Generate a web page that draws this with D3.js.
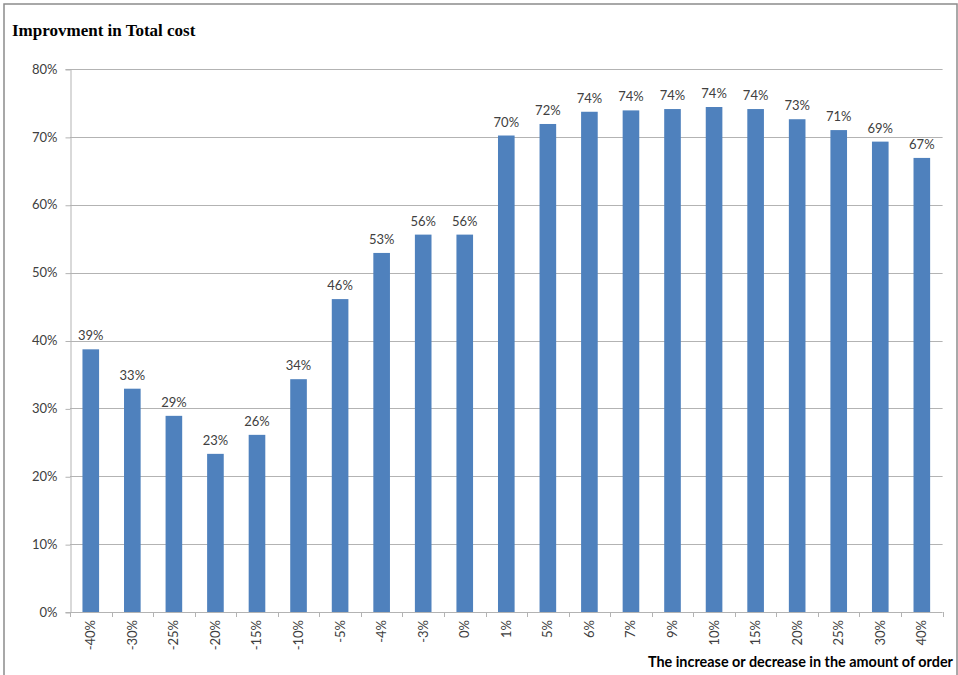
<!DOCTYPE html>
<html>
<head>
<meta charset="utf-8">
<script src="https://cdn.jsdelivr.net/npm/d3@7"></script>
<style>
  html, body { margin: 0; padding: 0; background: #fff; }
  svg { display: block; }
</style>
</head>
<body>
<svg id="chart" width="958" height="675"></svg>
<script>
// Change in order quantity (category labels along the x axis)
const categories = ["-40%", "-30%", "-25%", "-20%", "-15%", "-10%", "-5%", "-4%", "-3%", "0%",
                    "1%", "5%", "6%", "7%", "9%", "10%", "15%", "20%", "25%", "30%", "40%"];
// Improvement in total cost for each change (fraction)
const improvement = [0.387, 0.329, 0.289, 0.233, 0.261, 0.343, 0.461, 0.529, 0.556, 0.556,
                     0.702, 0.719, 0.737, 0.739, 0.741, 0.744, 0.741, 0.726, 0.710, 0.693, 0.669];
// Value axis ticks
const yTicks = [0, 0.1, 0.2, 0.3, 0.4, 0.5, 0.6, 0.7, 0.8];

const titleText = "Improvment in Total cost";
const xTitleText = "The increase or decrease in the amount of order";

const svg = d3.select("#chart");
const plot = { left: 70, right: 942.6, top: 69, bottom: 612 };

const barColor = "#4f81bd";
const gridColor = "#b3b3b3";
const textColor = "#404040";
const labelFont = "Lato, 'Liberation Sans', sans-serif";

// Outer frame
svg.append("rect")
  .attr("x", 4).attr("y", 4)
  .attr("width", 953).attr("height", 680)
  .attr("fill", "none")
  .attr("stroke", "#8c8c8c")
  .attr("stroke-width", 1.5);

const x = d3.scaleBand()
  .domain(categories)
  .range([plot.left, plot.right])
  .paddingInner(0.6)
  .paddingOuter(0.3);

const y = d3.scaleLinear()
  .domain([0, 0.8])
  .range([plot.bottom, plot.top]);

// Horizontal gridlines
svg.append("g")
  .selectAll("line")
  .data(yTicks.filter(d => d > 0))
  .join("line")
  .attr("x1", plot.left).attr("x2", plot.right)
  .attr("y1", d => Math.round(y(d)) + 0.5)
  .attr("y2", d => Math.round(y(d)) + 0.5)
  .attr("stroke", gridColor)
  .attr("stroke-width", 1);

// Y axis
const yAxis = d3.axisLeft(y)
  .tickValues(yTicks)
  .tickFormat(d3.format(".0%"))
  .tickSize(5)
  .tickPadding(8);

const gy = svg.append("g")
  .attr("transform", `translate(${plot.left + 0.5},0)`)
  .call(yAxis);
gy.select(".domain").attr("stroke", gridColor);
gy.selectAll(".tick line").attr("stroke", gridColor)
  .attr("transform", "translate(0,0.5)");
gy.selectAll(".tick text")
  .attr("fill", textColor)
  .style("font-family", labelFont)
  .style("font-size", "13px");

// Bars
svg.append("g")
  .selectAll("rect")
  .data(categories)
  .join("rect")
  .attr("x", (d) => x(d))
  .attr("y", (d, i) => y(improvement[i]))
  .attr("width", x.bandwidth())
  .attr("height", (d, i) => y(0) - y(improvement[i]))
  .attr("fill", barColor);

// Value labels above bars
svg.append("g")
  .selectAll("text")
  .data(categories)
  .join("text")
  .attr("x", d => x(d) + x.bandwidth() / 2)
  .attr("y", (d, i) => y(improvement[i]) - 9)
  .attr("text-anchor", "middle")
  .attr("fill", textColor)
  .style("font-family", labelFont)
  .style("font-size", "13px")
  .text((d, i) => d3.format(".0%")(improvement[i]));

// X axis line and category boundary ticks
const gx = svg.append("g");
gx.append("line")
  .attr("x1", plot.left).attr("x2", plot.right)
  .attr("y1", plot.bottom + 0.5).attr("y2", plot.bottom + 0.5)
  .attr("stroke", gridColor);
const step = x.step();
gx.selectAll("line.tk")
  .data(d3.range(categories.length + 1))
  .join("line")
  .attr("class", "tk")
  .attr("x1", i => Math.round(plot.left + i * step) + 0.5)
  .attr("x2", i => Math.round(plot.left + i * step) + 0.5)
  .attr("y1", plot.bottom)
  .attr("y2", plot.bottom + 5)
  .attr("stroke", gridColor);

// Rotated category labels
gx.selectAll("text")
  .data(categories)
  .join("text")
  .attr("transform", d => `translate(${x(d) + x.bandwidth() / 2 + 4.5},${plot.bottom + 8}) rotate(-90)`)
  .attr("text-anchor", "end")
  .attr("fill", textColor)
  .style("font-family", labelFont)
  .style("font-size", "13px")
  .text(d => d);

// Chart title
svg.append("text")
  .attr("x", 12).attr("y", 36)
  .attr("fill", "#000")
  .style("font-family", "'Liberation Serif', 'Times New Roman', serif")
  .style("font-weight", "bold")
  .style("font-size", "17px")
  .text(titleText);

// Axis title
svg.append("text")
  .attr("x", 953).attr("y", 667)
  .attr("text-anchor", "end")
  .attr("fill", "#000")
  .style("font-family", labelFont)
  .style("font-weight", "bold")
  .style("font-size", "14.4px")
  .text(xTitleText);
</script>
</body>
</html>
